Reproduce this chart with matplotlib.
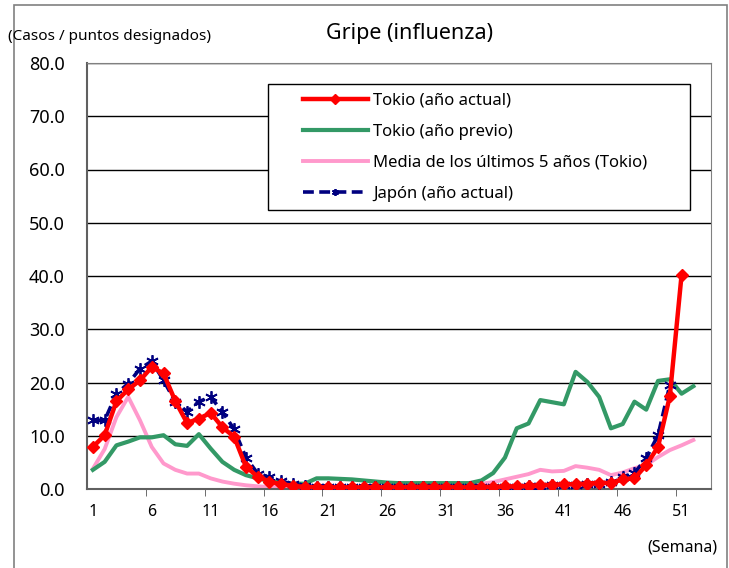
import matplotlib.pyplot as plt
from matplotlib.patches import Rectangle
from matplotlib.transforms import ScaledTranslation
import numpy as np

plt.rcParams['font.family'] = ['Noto Sans', 'DejaVu Sans']

# Weekly values (cases per designated point)
tokyo_now = [7.9, 10.1, 16.5, 18.7, 20.4, 22.9, 21.7, 16.5, 12.4, 13.2,
             14.3, 11.6, 9.8, 4.2, 2.3, 1.4, 0.9, 0.6, 0.4, 0.3,
             0.3, 0.3, 0.3, 0.3, 0.3, 0.3, 0.3, 0.4, 0.4, 0.4,
             0.4, 0.3, 0.3, 0.4, 0.4, 0.5, 0.5, 0.6, 0.7, 0.8,
             0.9, 0.9, 1.0, 1.2, 1.1, 1.8, 2.0, 4.5, 7.9, 17.4,
             40.2]
tokyo_prev = [3.6, 5.1, 8.2, 8.9, 9.7, 9.7, 10.1, 8.4, 8.1, 10.3,
              7.6, 5.1, 3.6, 2.6, 2.0, 1.5, 1.2, 1.0, 1.0, 2.0,
              2.0, 1.9, 1.8, 1.6, 1.4, 1.2, 1.1, 1.1, 1.1, 1.1,
              1.1, 1.1, 1.1, 1.6, 3.0, 5.9, 11.4, 12.3, 16.7, 16.3,
              15.9, 22.0, 20.1, 17.3, 11.4, 12.2, 16.4, 14.9, 20.3, 20.6,
              17.9, 19.3]
tokyo_avg5 = [3.8, 7.5, 13.5, 17.3, 12.9, 7.9, 4.8, 3.6, 2.9, 2.9,
              2.0, 1.4, 1.0, 0.7, 0.5, 0.4, 0.4, 0.3, 0.3, 0.3,
              0.3, 0.3, 0.3, 0.3, 0.3, 0.4, 0.4, 0.7, 0.7, 0.7,
              0.7, 0.7, 0.7, 1.0, 1.3, 1.8, 2.3, 2.8, 3.6, 3.3,
              3.4, 4.3, 4.0, 3.6, 2.6, 3.1, 3.9, 4.5, 6.0, 7.3,
              8.2, 9.2]
japan_now = [12.9, 12.9, 17.9, 19.8, 22.6, 24.0, 20.4, 16.4, 14.5, 16.4,
             17.3, 14.5, 11.2, 5.9, 2.9, 2.2, 1.5, 0.9, 0.6, 0.4,
             0.3, 0.3, 0.3, 0.3, 0.3, 0.3, 0.3, 0.3, 0.3, 0.3,
             0.3, 0.3, 0.3, 0.3, 0.3, 0.4, 0.4, 0.5, 0.6, 0.7,
             0.8, 0.8, 0.9, 1.0, 1.3, 2.3, 3.0, 5.8, 10.1, 19.5]

week_ticks = [1, 6, 11, 16, 21, 26, 31, 36, 41, 46, 51]


def weeks(series):
    return np.arange(1, len(series) + 1)


fig = plt.figure(figsize=(7.29, 5.68), dpi=100)
ax = fig.add_axes([87 / 729, 1 - 489 / 568, 624 / 729, 426 / 568])

ax.plot(weeks(tokyo_prev), tokyo_prev, color="#339966", linewidth=3,
        label="Tokio (año previo)", zorder=3)
ax.plot(weeks(tokyo_avg5), tokyo_avg5, color="#FF99CC", linewidth=2.8,
        label="Media de los últimos 5 años (Tokio)", zorder=2)
ax.plot(weeks(japan_now), japan_now, color="#000080", linewidth=2.6,
        linestyle=(0, (3, 1.5)), marker=(6, 2, 0), markersize=9, markeredgewidth=1.3,
        label="Japón (año actual)", zorder=4)
ax.plot(weeks(tokyo_now), tokyo_now, color="#FF0000", linewidth=3.2,
        marker="D", markersize=6.5, label="Tokio (año actual)", zorder=5)

# Legend box drawn separately so the padding matches the original
ax.add_patch(Rectangle((0.290, 0.655), 0.676, 0.296, transform=ax.transAxes,
                       facecolor="white", edgecolor="black", linewidth=1.0,
                       zorder=6))
handles, labels = ax.get_legend_handles_labels()
order = [3, 0, 1, 2]
leg = ax.legend([handles[i] for i in order], [labels[i] for i in order],
                loc="upper left", bbox_to_anchor=(0.346, 0.930),
                fontsize=12, frameon=False, handlelength=3.9,
                labelspacing=0.9, borderpad=0, borderaxespad=0,
                handletextpad=0.3)
leg.set_zorder(7)
for h in leg.legend_handles:
    h.set_markersize(5)

ax.set_xlim(0.5, 53.5)
ax.set_ylim(0, 80)
ax.set_yticks(np.arange(0, 81, 10))
ax.set_yticklabels([f"{v:.1f}" for v in np.arange(0, 81, 10)], fontsize=13)
ax.set_xticks(week_ticks)
ax.set_xticklabels([str(w) for w in week_ticks], fontsize=11.5)
shift = ScaledTranslation(-4 / 100, 0, fig.dpi_scale_trans)
for lbl in ax.get_xticklabels():
    lbl.set_transform(lbl.get_transform() + shift)
ax.set_xticks(np.arange(5.5, 54, 5), minor=True)
ax.tick_params(axis="x", which="major", length=0, pad=11)
ax.tick_params(axis="x", which="minor", length=5, direction="out", color="#555555")
ax.tick_params(axis="y", length=0, pad=16)
ax.grid(axis="y", color="black", linewidth=1.0)
ax.set_axisbelow(True)
for side in ["top", "right"]:
    ax.spines[side].set_color("#808080")
for side in ["left", "bottom"]:
    ax.spines[side].set_color("#606060")
    ax.spines[side].set_linewidth(1.5)

fig.text(410 / 729, 1 - 33 / 568, "Gripe (influenza)", ha="center", va="center", fontsize=15.5)
fig.text(8 / 729, 1 - 37 / 568, "(Casos / puntos designados)", ha="left", va="center", fontsize=11)
fig.text(718 / 729, 1 - 548 / 568, "(Semana)", ha="right", va="center", fontsize=11.5)

# Outer chart frame
fig.patches.append(Rectangle((14 / 729, -0.01), 713 / 729, 1 - 5 / 568 + 0.01,
                             transform=fig.transFigure, fill=False,
                             edgecolor="#808080", linewidth=1.2))

plt.savefig("out.png", dpi=100)
